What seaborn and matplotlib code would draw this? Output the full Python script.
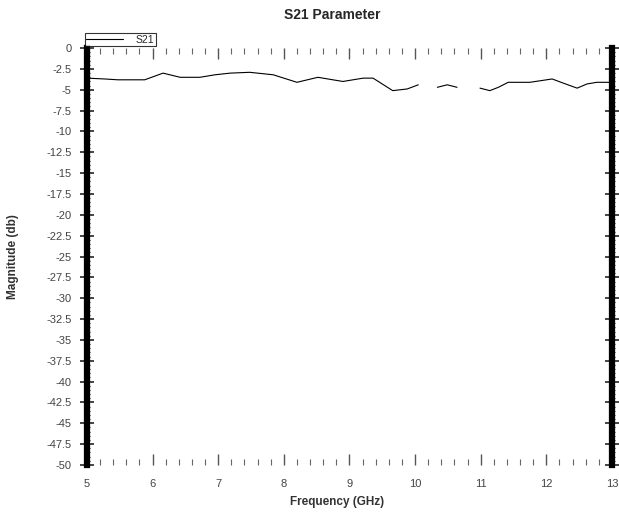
import matplotlib
matplotlib.use("Agg")
import matplotlib.pyplot as plt
import numpy as np
import pandas as pd
import seaborn as sns
from matplotlib.ticker import MultipleLocator

# S21 trace (GHz, dB); segment ids mark the gaps in the trace
freq_ghz = [5.0, 5.27, 5.47, 5.88, 6.16, 6.42, 6.72, 6.95, 7.18, 7.48, 7.84, 8.20,
            8.52, 8.90, 9.21, 9.36, 9.66, 9.88, 10.05,
            10.34, 10.49, 10.64,
            10.99, 11.14, 11.27, 11.42, 11.75, 12.09, 12.26, 12.47, 12.62, 12.77, 12.97]
s21_db = [-3.6, -3.7, -3.8, -3.8, -3.0, -3.5, -3.5, -3.2, -3.0, -2.9, -3.2, -4.1,
          -3.5, -4.0, -3.6, -3.6, -5.1, -4.9, -4.4,
          -4.7, -4.4, -4.7,
          -4.8, -5.1, -4.7, -4.1, -4.1, -3.7, -4.2, -4.8, -4.3, -4.1, -4.1]
segment = [0] * 19 + [1] * 3 + [2] * 11

y_ticks = np.arange(0, -50.01, -2.5)
y_tick_labels = ["0", "-2.5", "-5", "-7.5", "-10", "-12.5", "-15", "-17.5", "-20",
                 "-22.5", "-25", "-27.5", "-30", "-32.5", "-35", "-37.5", "-40",
                 "-42.5", "-45", "-47.5", "-50"]
x_ticks = [5, 6, 7, 8, 9, 10, 11, 12, 13]

sns.set_style("white")
plt.rcParams["font.family"] = ["Liberation Sans", "DejaVu Sans"]

df = pd.DataFrame({"Frequency": freq_ghz, "S21": s21_db, "seg": segment})

fig = plt.figure(figsize=(6.19, 5.12), dpi=100)
ax = fig.add_axes([0.1405, 0.092, 0.848, 0.814])

sns.lineplot(data=df, x="Frequency", y="S21", units="seg", estimator=None,
             color="black", linewidth=0.8, ax=ax)

ax.set_xlim(5, 13)
ax.set_ylim(-50, 0)
ax.set_xticks(x_ticks)
ax.set_xticklabels([str(t) for t in x_ticks])
ax.set_yticks(y_ticks)
ax.set_yticklabels(y_tick_labels)
ax.xaxis.set_minor_locator(MultipleLocator(0.2))
ax.yaxis.set_minor_locator(MultipleLocator(0.5))

for side in ["left", "right"]:
    ax.spines[side].set_linewidth(4.5)
    ax.spines[side].set_color("black")
for side in ["top", "bottom"]:
    ax.spines[side].set_visible(False)

ax.tick_params(axis="y", which="major", direction="inout", length=10, width=1.2,
               left=True, right=True, labelsize=8, labelcolor="#444444", pad=6)
ax.tick_params(axis="y", which="minor", direction="inout", length=5, width=0.8,
               left=True, right=True)
ax.tick_params(axis="x", which="major", direction="in", length=8, width=1.0,
               bottom=True, top=True, labelsize=8, labelcolor="#444444", pad=10,
               color="#555555")
ax.tick_params(axis="x", which="minor", direction="in", length=4, width=0.8,
               bottom=True, top=True, color="#666666")

ax.set_xlabel("Frequency (GHz)", fontsize=8.5, fontweight="bold", color="#333333")
ax.xaxis.set_label_coords(0.476, -0.075)
ax.set_ylabel("Magnitude (db)", fontsize=8.5, fontweight="bold", color="#333333")
ax.yaxis.set_label_coords(-0.13, 0.5)
fig.text(0.536, 0.971, "S21 Parameter", fontsize=10, fontweight="bold",
         ha="center", va="center")

line = ax.lines[0]
leg = ax.legend([line], ["S21"], loc="lower left", bbox_to_anchor=(-0.004, 1.004),
                frameon=True, fancybox=False, fontsize=7.5, handlelength=3.5,
                borderpad=0.15, borderaxespad=0, handletextpad=1.2)
leg.get_frame().set_edgecolor("black")
leg.get_frame().set_linewidth(0.8)

plt.savefig("out.png", dpi=100)
plt.close(fig)
